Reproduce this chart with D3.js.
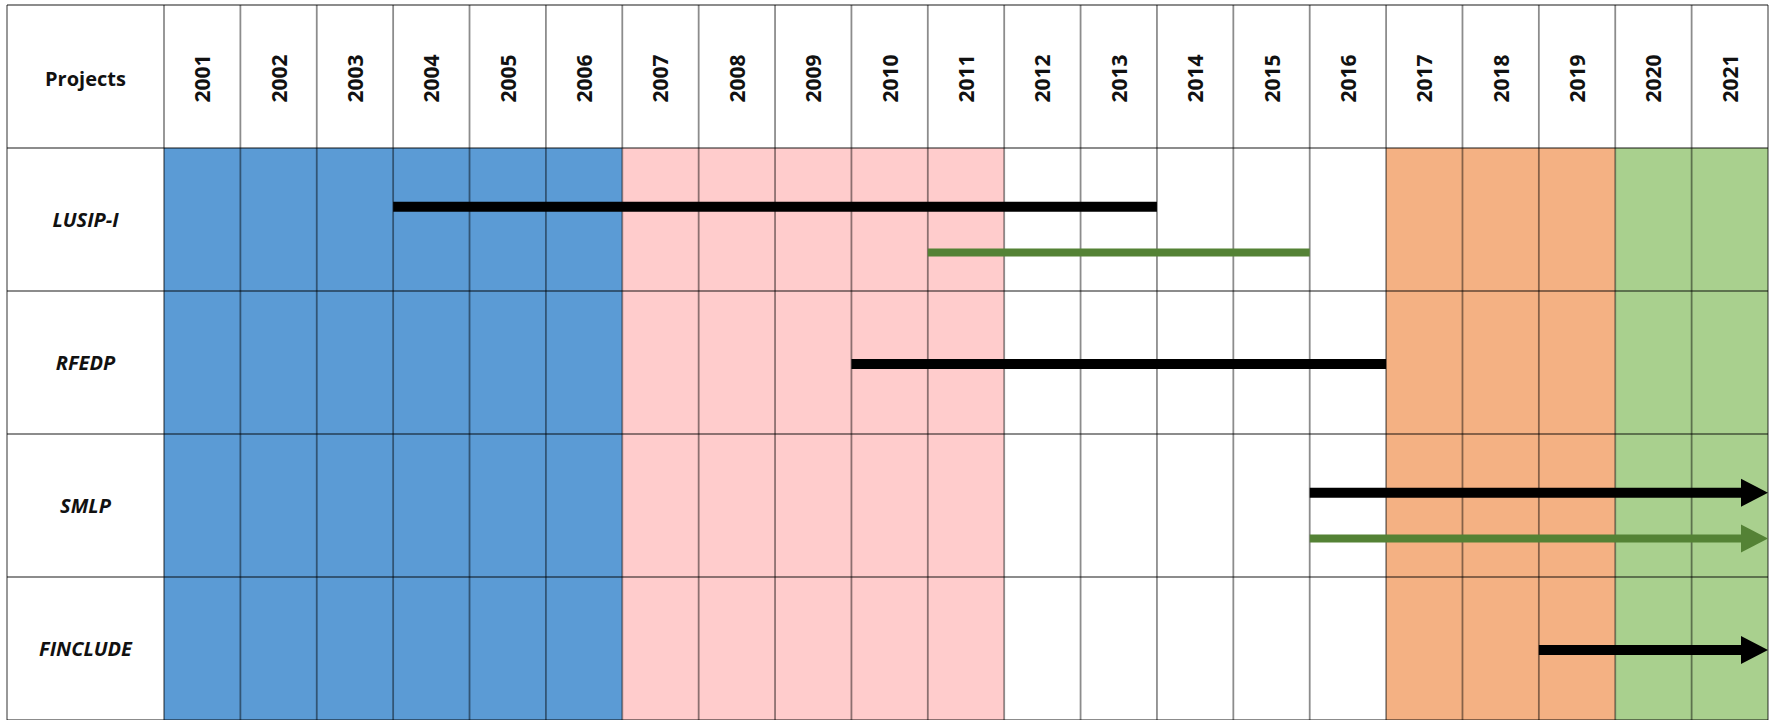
<!DOCTYPE html>
<html>
<head>
<meta charset="utf-8">
<script src="https://cdn.jsdelivr.net/npm/d3@7"></script>
<style>
  body { margin: 0; background: white; }
</style>
</head>
<body>
<div id="chart"></div>
<script>
// Years across the top
const years = d3.range(2001, 2022).map(String);

// Project rows
const projects = ["LUSIP-I", "RFEDP", "SMLP", "FINCLUDE"];

// Background periods (first year, last year, colour)
const periods = [
  { from: "2001", to: "2006", color: "#5b9bd5" },
  { from: "2007", to: "2011", color: "#ffcccc" },
  { from: "2012", to: "2016", color: "#ffffff" },
  { from: "2017", to: "2019", color: "#f4b183" },
  { from: "2020", to: "2021", color: "#a9d08e" }
];

// Project timelines: lane 0 = black bar, lane 1 = green bar; open = still running (arrow)
const timelines = [
  { project: "LUSIP-I",  lane: 0, start: "2004", end: "2013", open: false },
  { project: "LUSIP-I",  lane: 1, start: "2011", end: "2015", open: false },
  { project: "RFEDP",    lane: 0, start: "2010", end: "2016", open: false },
  { project: "SMLP",     lane: 0, start: "2016", end: "2021", open: true },
  { project: "SMLP",     lane: 1, start: "2016", end: "2021", open: true },
  { project: "FINCLUDE", lane: 0, start: "2019", end: "2021", open: true }
];

const W = 1780, H = 720;
const gridLeft = 7, labelRight = 164, gridRight = 1768, gridTop = 5, gridBottom = 720;

const svg = d3.select("#chart").append("svg")
  .attr("width", W)
  .attr("height", H);

const x = d3.scaleBand()
  .domain(years)
  .range([labelRight, gridRight]);

const y = d3.scaleBand()
  .domain(["Projects"].concat(projects))
  .range([gridTop, gridBottom]);

const bodyTop = y(projects[0]);

// Background period fills
svg.selectAll(".period")
  .data(periods)
  .enter()
  .append("rect")
  .attr("class", "period")
  .attr("x", d => x(d.from))
  .attr("y", bodyTop)
  .attr("width", d => x(d.to) + x.bandwidth() - x(d.from))
  .attr("height", gridBottom - bodyTop)
  .attr("fill", d => d.color);

// Grid lines
const gridColor = "rgba(0,0,0,0.45)";
const colEdges = [gridLeft].concat(years.map(d => x(d)), [gridRight]);
svg.selectAll(".vline")
  .data(colEdges)
  .enter()
  .append("line")
  .attr("class", "vline")
  .attr("x1", d => d)
  .attr("x2", d => d)
  .attr("y1", gridTop)
  .attr("y2", gridBottom)
  .attr("stroke", gridColor)
  .attr("stroke-width", 1.8);

const rowEdges = y.domain().map(d => y(d)).concat([gridBottom]);
svg.selectAll(".hline")
  .data(rowEdges)
  .enter()
  .append("line")
  .attr("class", "hline")
  .attr("x1", gridLeft)
  .attr("x2", gridRight)
  .attr("y1", d => d)
  .attr("y2", d => d)
  .attr("stroke", gridColor)
  .attr("stroke-width", 1.8);

// Header: "Projects"
svg.append("text")
  .attr("x", (gridLeft + labelRight) / 2)
  .attr("y", y("Projects") + y.bandwidth() / 2 + 4)
  .attr("text-anchor", "middle")
  .attr("dominant-baseline", "middle")
  .attr("font-family", "Open Sans")
  .attr("font-weight", "bold")
  .attr("font-size", "20px")
  .attr("fill", "#111")
  .text("Projects");

// Header: rotated years
svg.selectAll(".year-label")
  .data(years)
  .enter()
  .append("text")
  .attr("class", "year-label")
  .attr("transform", d => `translate(${x(d) + x.bandwidth() / 2},${y("Projects") + y.bandwidth() / 2 + 2}) rotate(-90)`)
  .attr("text-anchor", "middle")
  .attr("dominant-baseline", "central")
  .attr("font-family", "Open Sans")
  .attr("font-weight", "bold")
  .attr("font-size", "21px")
  .attr("fill", "#111")
  .text(d => d);

// Row labels
svg.selectAll(".project-label")
  .data(projects)
  .enter()
  .append("text")
  .attr("class", "project-label")
  .attr("x", (gridLeft + labelRight) / 2)
  .attr("y", d => y(d) + y.bandwidth() / 2 + 2)
  .attr("text-anchor", "middle")
  .attr("dominant-baseline", "middle")
  .attr("font-family", "Open Sans")
  .attr("font-weight", "bold")
  .attr("font-style", "italic")
  .attr("font-size", "20px")
  .attr("fill", "#111")
  .text(d => d);

// Lane placement inside a row
const laneCount = d3.rollup(timelines, v => d3.max(v, d => d.lane) + 1, d => d.project);
const laneY = d => {
  const n = laneCount.get(d.project);
  const frac = n === 1 ? 0.51 : [0.41, 0.73][d.lane];
  return y(d.project) + y.bandwidth() * frac;
};
const laneColor = ["#000000", "#548235"];
const laneWidth = [10, 8];

// Timeline bars
svg.selectAll(".timeline")
  .data(timelines)
  .enter()
  .append("line")
  .attr("class", "timeline")
  .attr("x1", d => x(d.start))
  .attr("x2", d => x(d.end) + x.bandwidth() - (d.open ? 14 : 0))
  .attr("y1", laneY)
  .attr("y2", laneY)
  .attr("stroke", d => laneColor[d.lane])
  .attr("stroke-width", d => laneWidth[d.lane]);

// Arrow heads at the open end
svg.selectAll(".timeline-head")
  .data(timelines.filter(d => d.open))
  .enter()
  .append("path")
  .attr("class", "timeline-head")
  .attr("d", d => {
    const tip = x(d.end) + x.bandwidth();
    const cy = laneY(d);
    return `M${tip - 27},${cy - 14} L${tip},${cy} L${tip - 27},${cy + 14} Z`;
  })
  .attr("fill", d => laneColor[d.lane]);
</script>
</body>
</html>
